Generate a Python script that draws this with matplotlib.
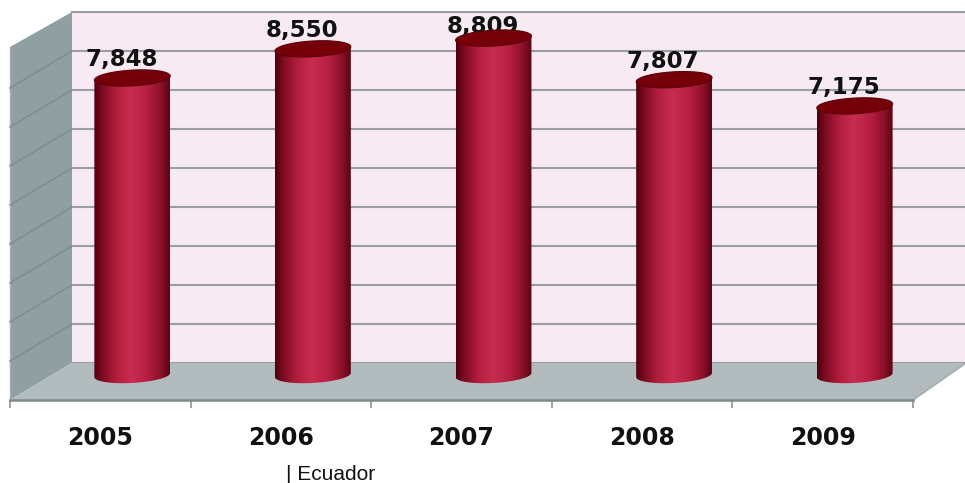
import numpy as np
import matplotlib
matplotlib.use('Agg')
import matplotlib.pyplot as plt
from matplotlib.colors import LinearSegmentedColormap
from matplotlib.patches import Polygon, PathPatch
from matplotlib.path import Path

# Donnees
years = ['2005', '2006', '2007', '2008', '2009']
values = [7848, 8550, 8809, 7807, 7175]
value_labels = ['7,848', '8,550', '8,809', '7,807', '7,175']
label_lift = [5, 5, 0, 5, 5]
wall_ticks = list(range(0, 10000, 1000))

W, H = 965, 483
PX_PER_UNIT = 0.0415
BAR_BASE = 690
BAR_WIDTH = 0.42
ELLIPSE_H = 380
ELLIPSE_TILT = 50


def add_axes_px(fig, x0, y0, x1, y1):
    # y compte depuis le haut de l'image
    return fig.add_axes([x0 / W, 1 - y1 / H, (x1 - x0) / W, (y1 - y0) / H])


def ellipse_pts(i, yc, t):
    # ellipse un peu inclinee, comme le rendu 3D de l'original
    x = i + BAR_WIDTH / 2 * np.cos(t)
    y = yc + ELLIPSE_H / 2 * np.sin(t) + ELLIPSE_TILT * np.cos(t)
    return x, y


fig = plt.figure(figsize=(W / 100, H / 100), dpi=100, facecolor='white')

# Habillage 3D : sol, paroi gauche
ax_bg = add_axes_px(fig, 0, 0, W, H)
ax_bg.set_xlim(0, W)
ax_bg.set_ylim(H, 0)
ax_bg.axis('off')
ax_bg.add_patch(Polygon([(10, 47), (72, 12), (72, 363), (10, 400)], fc='#8f9fa2', ec='none'))
ax_bg.add_patch(Polygon([(10, 400), (72, 363), (966, 363), (913, 400)], fc='#b2bcbf', ec='none'))
ax_bg.plot([913, 966], [400, 363], color='#a4aeb0', lw=1.2)
ax_bg.plot([10, 10], [47, 400], color='#a6b0b2', lw=1)

# Paroi du fond
ax_wall = add_axes_px(fig, 72, 12, 966, 363)
ax_wall.set_facecolor('#f7eaf3')
ax_wall.set_ylim(0, 9000)
ax_wall.set_xlim(0, 1)
ax_wall.set_yticks(wall_ticks)
ax_wall.set_xticks([])
ax_wall.tick_params(left=False, labelleft=False)
ax_wall.grid(axis='y', color='#9a9da1', lw=1.5)
for side in ['left', 'right', 'bottom']:
    ax_wall.spines[side].set_visible(False)
ax_wall.spines['top'].set_color('#9a9da1')
ax_wall.spines['top'].set_linewidth(1.5)

# Lignes obliques sur la paroi gauche
for t in wall_ticks[1:-1]:
    py = 363 - t * 351 / 9000
    ax_bg.plot([72, 10], [py, py + 37], color='#7f8e91', lw=1.2)

# Axe avant avec les annees
ax_front = add_axes_px(fig, 10, 399, 913, 400)
ax_front.patch.set_visible(False)
ax_front.set_xlim(-0.5, 4.5)
ax_front.set_yticks([])
ax_front.set_xticks(range(len(years)))
ax_front.set_xticklabels(years, fontsize=17, fontweight='bold', color='#111111')
ax_front.set_xticks(np.arange(-0.5, 5, 1), minor=True)
ax_front.tick_params(axis='x', which='major', length=0, pad=19)
ax_front.tick_params(axis='x', which='minor', length=6, width=1.2, color='#8a9496')
for side in ['left', 'right', 'top']:
    ax_front.spines[side].set_visible(False)
ax_front.spines['bottom'].set_color('#7d8789')
ax_front.spines['bottom'].set_linewidth(1.8)

# Cylindres
ax_bars = add_axes_px(fig, 42, 0, 945, 400)
ax_bars.patch.set_visible(False)
ax_bars.axis('off')
ax_bars.set_xlim(-0.5, 4.5)
y_top = values[0] + 78 / PX_PER_UNIT
ax_bars.set_ylim(y_top - 400 / PX_PER_UNIT, y_top)

cyl_cmap = LinearSegmentedColormap.from_list('cyl', [
    (0.0, '#4e000c'), (0.10, '#7a0a20'), (0.28, '#b01c3c'), (0.48, '#c82d50'),
    (0.70, '#b81f42'), (0.88, '#8c1028'), (1.0, '#5c0414')])
gradient = np.linspace(0, 1, 256).reshape(1, -1)

for i, (val, lab, lift) in enumerate(zip(values, value_labels, label_lift)):
    x0, x1 = i - BAR_WIDTH / 2, i + BAR_WIDTH / 2
    # contour : flanc + demi-ellipse du bas
    bx, by = ellipse_pts(i, BAR_BASE, np.linspace(np.pi, 2 * np.pi, 40))
    verts = [(x0, val - ELLIPSE_TILT)] + list(zip(bx, by)) + [(x1, val + ELLIPSE_TILT), (x0, val - ELLIPSE_TILT)]
    clip = PathPatch(Path(verts), transform=ax_bars.transData, fc='none', ec='none')
    ax_bars.add_patch(clip)
    img = ax_bars.imshow(gradient, cmap=cyl_cmap, aspect='auto', zorder=3, interpolation='bilinear',
                         extent=[x0, x1, BAR_BASE - ELLIPSE_H, val + ELLIPSE_H])
    img.set_clip_path(clip)
    tx, ty = ellipse_pts(i, val, np.linspace(0, 2 * np.pi, 80))
    ax_bars.add_patch(Polygon(np.column_stack([tx, ty]), fc='#760008', ec='#5c0008', lw=0.8, zorder=4))
    ax_bars.annotate(lab, (i, val), xytext=(-8, lift), textcoords='offset points', ha='center',
                     va='bottom', fontsize=16.5, fontweight='bold', color='#111111', zorder=2)

ax_bars.set_xlim(-0.5, 4.5)
ax_bars.set_ylim(y_top - 400 / PX_PER_UNIT, y_top)

fig.text(286 / W, 1 - 480.5 / H, '| Ecuador', family='Liberation Sans', fontsize=15,
         color='#111111', ha='left', va='baseline')

fig.savefig('out.png', dpi=100)
